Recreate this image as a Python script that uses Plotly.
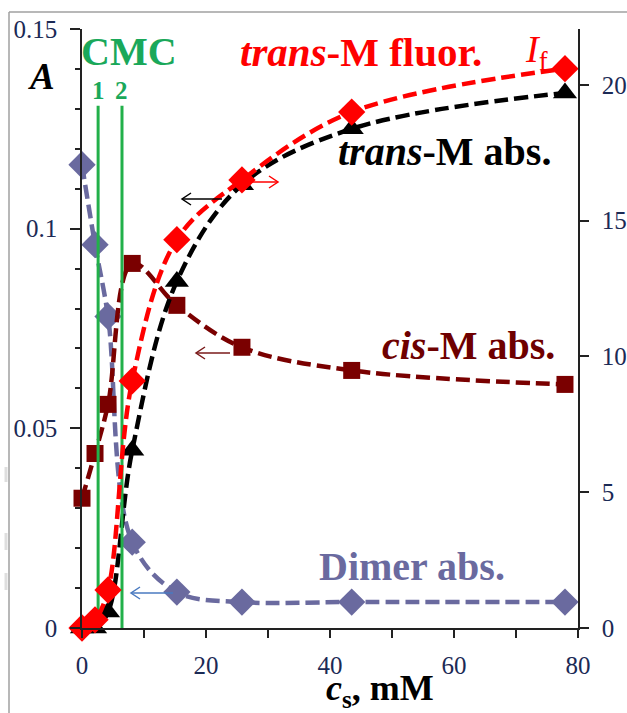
import plotly.graph_objects as go

# ---------------- data ----------------
cs = [0, 2.1, 4.2, 8.1, 15.3, 25.8, 43.5, 77.9]
dimer_abs = [0.116, 0.096, 0.078, 0.0215, 0.009, 0.0065, 0.0065, 0.0065]
cis_abs = [0.0325, 0.0437, 0.056, 0.0913, 0.0808, 0.0703, 0.0645, 0.061]
trans_abs = [0.0, 0.0, 0.004, 0.0445, 0.0868, 0.111, 0.125, 0.134]
trans_fluor = [0.0, 0.3, 1.4, 9.1, 14.3, 16.5, 19.0, 20.6]
cmc = [2.6, 6.45]
cmc_labels = ["1", "2"]
x_ticks = [0, 10, 20, 30, 40, 50, 60, 70, 80]
x_ticktext = ["0", "", "20", "", "40", "", "60", "", "80"]
y_ticks = [0, 0.05, 0.1, 0.15]
y_ticktext = ["0", "0.05", "0.1", "0.15"]
y2_ticks = [0, 5, 10, 15, 20]

W, H = 627, 713
L, R, T, B = 82, 578, 29, 628  # plot area in pixels


def px(x):
    return (x - L) / (R - L)


def py(y):
    return (B - y) / (B - T)


FONT = "Liberation Serif, DejaVu Serif, serif"
RED = "#ff0000"
BLACK = "#000000"
CIS = "#7a0000"
DIM = "#6a6a9f"
GREEN = "#22b04a"
DASH = "14px,6px"
LW = 4.5

fig = go.Figure()

fig.add_trace(go.Scatter(x=cs, y=dimer_abs, mode="lines+markers", cliponaxis=False,
                         line=dict(color=DIM, width=LW, dash=DASH, shape="spline", smoothing=1),
                         marker=dict(symbol="diamond", size=21, color=DIM)))
fig.add_trace(go.Scatter(x=cs, y=cis_abs, mode="lines+markers", cliponaxis=False,
                         line=dict(color=CIS, width=LW, dash=DASH, shape="spline", smoothing=1),
                         marker=dict(symbol="square", size=17, color=CIS)))
fig.add_trace(go.Scatter(x=cs, y=trans_abs, mode="lines+markers", cliponaxis=False,
                         line=dict(color=BLACK, width=LW, dash=DASH, shape="spline", smoothing=1),
                         marker=dict(symbol="triangle-up", size=21, color=BLACK)))
fig.add_trace(go.Scatter(x=cs, y=trans_fluor, yaxis="y2", mode="lines+markers", cliponaxis=False,
                         line=dict(color=RED, width=LW, dash=DASH, shape="spline", smoothing=1),
                         marker=dict(symbol="diamond", size=21, color=RED)))

for c in cmc:
    fig.add_trace(go.Scatter(x=[c, c], y=[-0.0022, 0.1308], mode="lines", cliponaxis=False,
                             line=dict(color=GREEN, width=3)))

axis_font = dict(family=FONT, size=25, color="#1b2a55")

fig.update_layout(
    width=W, height=H,
    margin=dict(l=L, r=W - R, t=T, b=H - B, pad=0, autoexpand=False),
    paper_bgcolor="white", plot_bgcolor="white",
    showlegend=False,
    font=dict(family=FONT),
    xaxis=dict(range=[0, 80], tickvals=x_ticks, ticktext=x_ticktext, ticks="outside",
               ticklen=8, tickwidth=1.5, tickcolor="#222", showline=True, linecolor="#222",
               linewidth=1.5, showgrid=False, zeroline=False, tickfont=axis_font,
               ticklabelstandoff=6, automargin=False),
    yaxis=dict(range=[0, 0.15], tickvals=y_ticks, ticktext=y_ticktext, ticks="outside",
               ticklen=10, tickwidth=1.5, tickcolor="#222", showline=True, linecolor="#222",
               linewidth=1.5, showgrid=False, zeroline=False, tickfont=axis_font,
               ticklabelstandoff=8, automargin=False,
               minor=dict(dtick=0.01, ticks="outside", ticklen=5, tickwidth=1.5,
                          tickcolor="#222", showgrid=False)),
    yaxis2=dict(range=[0, 22.06], tickvals=y2_ticks, overlaying="y", side="right",
                ticks="outside", ticklen=9, tickwidth=1.5, tickcolor="#222", showline=True,
                linecolor="#222", linewidth=1.5, showgrid=False, zeroline=False,
                tickfont=axis_font, ticklabelstandoff=8, automargin=False),
)


def text(x, y, s, color, size, anchor="left"):
    fig.add_annotation(x=px(x), y=py(y), xref="paper", yref="paper", text=s,
                       showarrow=False, xanchor=anchor, yanchor="middle",
                       font=dict(family=FONT, size=size, color=color))


text(129, 52, "<b>CMC</b>", "#1aa85a", 40, "center")
for c, lab in zip(cmc, cmc_labels):
    fig.add_annotation(x=c, y=py(90), xref="x", yref="paper", text="<b>" + lab + "</b>",
                       showarrow=False, xanchor="center", yanchor="middle",
                       font=dict(family=FONT, size=25, color="#1aa85a"))
text(238, 52, "<b><i>trans</i>-M fluor.</b>", RED, 41)
text(523, 52, "<i>I</i><sub>f</sub>", RED, 38)
text(336, 152, "<b><i>trans</i>-M abs.</b>", BLACK, 40)
text(380, 345, "<b><i>cis</i>-M abs.</b>", "#6e0000", 40)
text(317, 566, "<b>Dimer abs.</b>", DIM, 40)
text(41, 76, "<b><i>A</i></b>", BLACK, 37, "center")
text(380, 690, "<b><i>c</i><sub>s</sub>, mM</b>", BLACK, 36, "center")


def arrow(x0, x1, y, color):
    d = 9 if x1 > x0 else -9
    fig.add_shape(type="line", xref="paper", yref="paper", x0=px(x0), x1=px(x1),
                  y0=py(y), y1=py(y), line=dict(color=color, width=1.5))
    fig.add_shape(type="path", xref="paper", yref="paper",
                  path=f"M {px(x1 - d)} {py(y - 6)} L {px(x1)} {py(y)} L {px(x1 - d)} {py(y + 6)}",
                  line=dict(color=color, width=1.5))


arrow(222, 182, 199, BLACK)
arrow(248, 278, 182, RED)
arrow(230, 196, 353, "#7a1a1a")
arrow(173, 131, 593, "#4a7ac0")

# outer frame
fig.add_shape(type="line", xref="paper", yref="paper", x0=px(9), x1=px(640),
              y0=py(12), y1=py(12), line=dict(color="#a0a0a0", width=1.5))
fig.add_shape(type="line", xref="paper", yref="paper", x0=px(9), x1=px(9),
              y0=py(12), y1=py(720), line=dict(color="#a0a0a0", width=1.5))
# faint marks at the left edge
for y0, y1 in [(467, 482), (533, 550), (573, 590)]:
    fig.add_shape(type="line", xref="paper", yref="paper", x0=px(6), x1=px(6),
                  y0=py(y0), y1=py(y1), line=dict(color="#dedede", width=3))

fig.write_html("out.html", config={"displayModeBar": False},
               post_script="document.body.style.margin='0px';document.body.style.overflow='hidden';")
